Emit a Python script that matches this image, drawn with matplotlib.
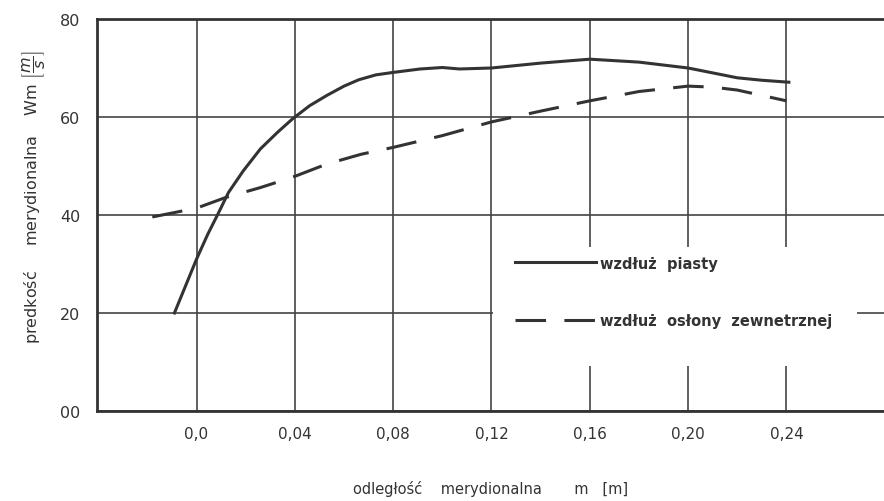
import matplotlib
matplotlib.use("Agg")
import matplotlib.pyplot as plt
from matplotlib.patches import Rectangle

# odczyt z wykresu: predkosc merydionalna Wm [m/s] w funkcji odleglosci m [m]
hub_x = [-0.009, 0.0, 0.0045, 0.009, 0.013, 0.019, 0.026, 0.033, 0.039,
         0.046, 0.053, 0.060, 0.066, 0.073, 0.080, 0.091, 0.100, 0.107,
         0.12, 0.14, 0.16, 0.18, 0.20, 0.21, 0.22, 0.23, 0.241]
hub_w = [20.0, 31.0, 36.0, 40.5, 44.6, 49.0, 53.5, 56.9, 59.6,
         62.3, 64.4, 66.3, 67.6, 68.6, 69.1, 69.8, 70.1, 69.8,
         70.0, 71.0, 71.8, 71.2, 70.0, 69.0, 68.0, 67.5, 67.1]

shroud_x = [-0.018, 0.0, 0.012, 0.026, 0.039, 0.053, 0.067, 0.080, 0.10,
            0.12, 0.14, 0.16, 0.18, 0.20, 0.21, 0.22, 0.24]
shroud_w = [39.6, 41.4, 43.6, 45.6, 47.7, 50.4, 52.4, 53.8, 56.2,
            59.0, 61.2, 63.3, 65.2, 66.3, 66.1, 65.5, 63.3]

xticks = [0.0, 0.04, 0.08, 0.12, 0.16, 0.20, 0.24]
xtick_labels = ["0,0", "0,04", "0,08", "0,12", "0,16", "0,20", "0,24"]
yticks = [0, 20, 40, 60, 80]
ytick_labels = ["00", "20", "40", "60", "80"]

ink = "#333333"

fig = plt.figure(figsize=(8.84, 5.02), dpi=100)
ax = fig.add_axes([97/884, 1 - 412/502, 1 - 97/884, 392/502])

ax.set_xlim(-0.0405, 0.2797)
ax.set_ylim(0, 80)
ax.set_xticks(xticks)
ax.set_xticklabels(xtick_labels)
ax.set_yticks(yticks)
ax.set_yticklabels(ytick_labels)
ax.tick_params(axis="x", length=0, pad=11, labelsize=11, colors=ink)
ax.tick_params(axis="y", length=0, pad=12, labelsize=11.5, colors=ink)

ax.grid(True, color="#444444", linewidth=1.2)
for side in ["left", "bottom", "top"]:
  ax.spines[side].set_linewidth(2.0)
  ax.spines[side].set_color(ink)
ax.spines["right"].set_visible(False)

# biale tlo pod legenda (przerywa siatke)
ax.add_patch(Rectangle((0.5035, 0.115), 0.462, 0.303, transform=ax.transAxes,
                       facecolor="white", edgecolor="none", zorder=1.8))

ax.plot(hub_x, hub_w, color=ink, linewidth=2.2, zorder=3,
        label="wzdłuż  piasty")
ax.plot(shroud_x, shroud_w, color=ink, linewidth=2.2, dashes=(10, 6), zorder=3,
        label="wzdłuż  osłony  zewnetrznej")

leg = ax.legend(loc="upper left", bbox_to_anchor=(0.515, 0.43), frameon=False,
                handlelength=5.5, handletextpad=0.3, labelspacing=2.9,
                prop={"size": 10.5, "weight": "bold"})
for t in leg.get_texts():
  t.set_color(ink)

ax.set_xlabel("odległość    merydionalna       m   [m]", fontsize=10.5, color=ink)
ax.xaxis.set_label_coords(0.5, -0.175)
ax.set_ylabel(r"predkość     merydionalna    Wm $\left[\dfrac{m}{s}\right]$",
              fontsize=11.5, color=ink)
ax.yaxis.set_label_coords(-0.064, 0.548)

plt.savefig("out.png", dpi=100)
